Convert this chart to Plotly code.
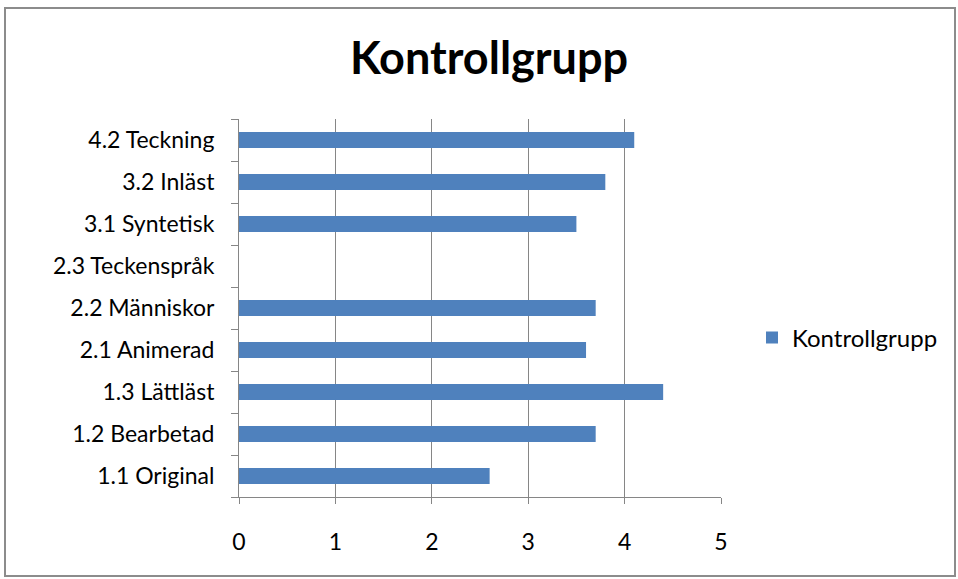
import plotly.graph_objects as go

categories = ["1.1 Original", "1.2 Bearbetad", "1.3 Lättläst", "2.1 Animerad",
              "2.2 Människor", "2.3 Teckenspråk", "3.1 Syntetisk", "3.2 Inläst",
              "4.2 Teckning"]
values = [2.6, 3.7, 4.4, 3.6, 3.7, None, 3.5, 3.8, 4.1]
series_name = "Kontrollgrupp"
x_ticks = [0, 1, 2, 3, 4, 5]

W, H = 958, 579
L, R, T, B = 239, 721, 119, 497

fig = go.Figure()
fig.add_trace(go.Bar(
    y=categories, x=values, orientation="h", name=series_name,
    marker=dict(color="#4F81BD", line=dict(width=0)),
    showlegend=True,
))

def px(x):
    return (x - L) / (R - L)

def py(y):
    return (B - y) / (B - T)

FONT = "Lato, 'Open Sans', sans-serif"

fig.update_layout(
    width=W, height=H,
    margin=dict(l=L, r=W - R, t=T, b=H - B, pad=0),
    paper_bgcolor="white", plot_bgcolor="white",
    font=dict(family=FONT, size=23, color="#000000"),
    title=dict(text="<b>Kontrollgrupp</b>", x=px(489), xref="paper", xanchor="center",
               y=1 - 58 / H, yanchor="middle",
               font=dict(family=FONT, size=45, color="#000000")),
    bargap=0.62,
    showlegend=True,
    legend=dict(x=px(752), y=py(338), xanchor="left", yanchor="middle",
                font=dict(size=24), bgcolor="rgba(0,0,0,0)",
                itemwidth=30),
    xaxis=dict(range=[0, 5], tickvals=x_ticks, showgrid=True, gridcolor="#868686",
               gridwidth=1, showline=True, linecolor="#868686", linewidth=1,
               ticks="outside", ticklen=6, tickcolor="#868686",
               ticklabelstandoff=18, zeroline=False, fixedrange=True),
    yaxis=dict(type="category", categoryorder="array", categoryarray=categories,
               showline=True, linecolor="#868686", linewidth=1,
               ticks="outside", ticklen=7, tickcolor="#868686", tickson="boundaries",
               ticklabelstandoff=19, showgrid=False, fixedrange=True),
    shapes=[dict(type="rect", xref="paper", yref="paper",
                 x0=px(5), x1=px(955), y0=py(576), y1=py(8),
                 line=dict(color="#8c8c8c", width=2), fillcolor="rgba(0,0,0,0)",
                 layer="below")],
)

fig.write_html("out.html", config={"displayModeBar": False},
               post_script="document.body.style.margin='0';document.body.style.padding='0';")
